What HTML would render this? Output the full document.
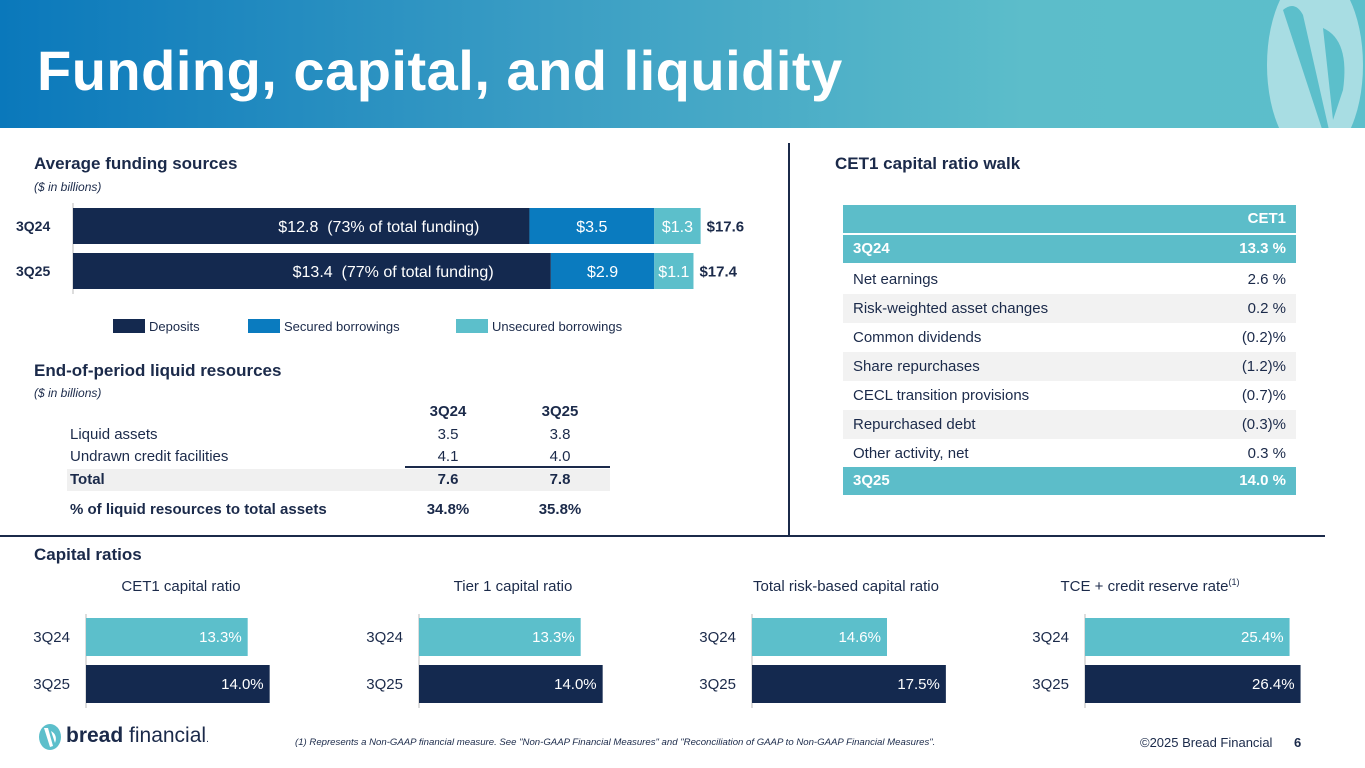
<!DOCTYPE html>
<html><head><meta charset="utf-8">
<style>
*{margin:0;padding:0;box-sizing:border-box}
body{width:1365px;height:768px;overflow:hidden;background:#fff;font-family:"Liberation Sans",Arial,sans-serif;color:#1b2a4a;position:relative}
.abs{position:absolute}
.h2{font-weight:bold;font-size:17px;color:#1b2a4a}
.sub{font-style:italic;font-size:12px;color:#1b2a4a}
.t{font-size:15px;white-space:nowrap}
</style></head><body>
<div class="abs" style="left:0;top:0;width:1365px;height:128px;background:linear-gradient(90deg,#0a78bb 0%,#3a9dc4 40%,#5cbdca 75%,#5cbfcb 100%);overflow:hidden">
  <svg class="abs" style="left:1255px;top:-20px" width="120" height="170">
    <ellipse cx="60" cy="85" rx="48" ry="95" fill="#a8dde3"/>
    <path d="M28 30 Q40 20 48 35 L74 150 L68 152 Z" fill="#5cbfcb"/>
    <path d="M68 48 Q95 60 88 110 L78 140 Z" fill="#5cbfcb"/>
  </svg>
  <div class="abs" style="left:37px;top:38px;font-size:56px;font-weight:bold;color:#fff;letter-spacing:0.5px">Funding, capital, and liquidity</div>
</div>

<div class="abs" style="left:788px;top:143px;width:2px;height:393px;background:#1b2a4a"></div>
<div class="abs" style="left:0;top:535px;width:1325px;height:2px;background:#1b2a4a"></div>

<div class="abs h2" style="left:34px;top:154px">Average funding sources</div>
<div class="abs sub" style="left:34px;top:180px">($ in billions)</div>
<svg class="abs" id="fund" style="left:0;top:195px" width="780" height="145"></svg>

<div class="abs h2" style="left:34px;top:361px">End-of-period liquid resources</div>
<div class="abs sub" style="left:34px;top:386px">($ in billions)</div>
<div>
  <div class="abs t" style="left:420px;top:403px;width:56px;text-align:center;font-weight:bold">3Q24</div>
  <div class="abs t" style="left:532px;top:403px;width:56px;text-align:center;font-weight:bold">3Q25</div>
  <div class="abs t" style="left:70px;top:426px">Liquid assets</div>
  <div class="abs t" style="left:420px;top:426px;width:56px;text-align:center">3.5</div>
  <div class="abs t" style="left:532px;top:426px;width:56px;text-align:center">3.8</div>
  <div class="abs t" style="left:70px;top:448px">Undrawn credit facilities</div>
  <div class="abs t" style="left:420px;top:448px;width:56px;text-align:center">4.1</div>
  <div class="abs t" style="left:532px;top:448px;width:56px;text-align:center">4.0</div>
  <div class="abs" style="left:405px;top:466px;width:205px;height:2px;background:#1b2a4a"></div>
  <div class="abs" style="left:67px;top:469px;width:543px;height:22px;background:#f0f0f0"></div>
  <div class="abs t" style="left:70px;top:471px;font-weight:bold">Total</div>
  <div class="abs t" style="left:420px;top:471px;width:56px;text-align:center;font-weight:bold">7.6</div>
  <div class="abs t" style="left:532px;top:471px;width:56px;text-align:center;font-weight:bold">7.8</div>
  <div class="abs t" style="left:70px;top:501px;font-weight:bold">% of liquid resources to total assets</div>
  <div class="abs t" style="left:415px;top:501px;width:66px;text-align:center;font-weight:bold">34.8%</div>
  <div class="abs t" style="left:527px;top:501px;width:66px;text-align:center;font-weight:bold">35.8%</div>
</div>

<div class="abs h2" style="left:835px;top:154px">CET1 capital ratio walk</div>
<div id="walk"></div>

<div class="abs h2" style="left:34px;top:545px">Capital ratios</div>
<svg class="abs" id="caps" style="left:0;top:570px" width="1365" height="145"></svg>

<svg class="abs" style="left:36px;top:723px" width="30" height="28">
  <ellipse cx="14" cy="14" rx="11" ry="13" fill="#5cbfcb"/><path d="M8 5 L14 24 L17 23 L12 5Z M15 8 Q22 12 19 20Z" fill="#fff"/>
</svg>
<div class="abs" style="left:66px;top:724px;font-size:21px;color:#1b2a4a"><b>bread</b> financial<span style="font-size:10px">.</span></div>
<div class="abs" style="left:295px;top:737px;font-size:9.6px;font-style:italic;color:#1b2a4a;white-space:nowrap">(1) Represents a Non-GAAP financial measure. See "Non-GAAP Financial Measures" and "Reconciliation of GAAP to Non-GAAP Financial Measures".</div>
<div class="abs" style="left:1140px;top:735px;font-size:13px;color:#1b2a4a">©2025 Bread Financial</div>
<div class="abs" style="left:1294px;top:735px;font-size:13px;font-weight:bold;color:#1b2a4a">6</div>

<script>
// Funding chart data
const fundCats = ['3Q24','3Q25'];
const deposits = [12.8, 13.4];
const secured = [3.5, 2.9];
const unsecured = [1.3, 1.1];
const depositPct = ['73%','77%'];
const totals = ['$17.6','$17.4'];
// CET1 walk data
const walkLabels = ['Net earnings','Risk-weighted asset changes','Common dividends','Share repurchases','CECL transition provisions','Repurchased debt','Other activity, net'];
const walkValues = ['2.6 %','0.2 %','(0.2)%','(1.2)%','(0.7)%','(0.3)%','0.3 %'];
const walkStart = '13.3 %';
const walkEnd = '14.0 %';
// Capital ratios data
const capTitles = ['CET1 capital ratio','Tier 1 capital ratio','Total risk-based capital ratio','TCE + credit reserve rate'];
const capQ = ['3Q24','3Q25'];
const cap3Q24 = [13.3, 13.3, 14.6, 25.4];
const cap3Q25 = [14.0, 14.0, 17.5, 26.4];
const capMin = [8.15, 8.15, 7.95, 6.8];
const capMax = [15.03, 15.03, 18.59, 26.44];

const NS='http://www.w3.org/2000/svg';
function mk(svg,tag,attrs,text){const e=document.createElementNS(NS,tag);for(const k in attrs)e.setAttribute(k,attrs[k]);if(text!==undefined)e.textContent=text;svg.appendChild(e);return e;}

// funding
(function(){
  const svg=document.getElementById('fund');
  const x0=73, pxPer=35.66;
  const xs=v=>x0+v*pxPer;
  const ys=i=>13+i*45;
  const bh=36;
  const ax=mk(svg,'line',{x1:x0,y1:8,x2:x0,y2:99,stroke:'#bbb','stroke-width':1});
  
  
  fundCats.forEach((c,i)=>{
    const y=ys(i);
    const l=mk(svg,'text',{x:16,y:y+bh/2+5,'font-size':14,'font-weight':'bold',fill:'#1b2a4a'},c);
    
    
    const segs=[[0,deposits[i],'#14294f'],[deposits[i],secured[i],'#0a7bbf'],[deposits[i]+secured[i],unsecured[i],'#5cbfcb']];
    segs.forEach((s,j)=>{
      const r=mk(svg,'rect',{x:xs(s[0]),y:y,width:s[1]*pxPer,height:bh,fill:s[2]});
      
      
      const txt=j===0?'$'+s[1].toFixed(1)+'\u00a0\u00a0('+depositPct[i]+' of total funding)':'$'+s[1].toFixed(1);
      const cx=j===0?xs(s[0])+s[1]*pxPer*0.67:xs(s[0])+s[1]*pxPer/2;
      const t=mk(svg,'text',{x:cx,y:y+bh/2+6,'font-size':16,fill:'#fff','text-anchor':'middle'},txt);
      
      
    });
    const tot=deposits[i]+secured[i]+unsecured[i];
    const tl=mk(svg,'text',{x:xs(tot)+6,y:y+bh/2+5.5,'font-size':15,'font-weight':'bold',fill:'#1b2a4a'},totals[i]);
    
    
  });
  const leg=[['Deposits','#14294f',113],['Secured borrowings','#0a7bbf',248],['Unsecured borrowings','#5cbfcb',456]];
  leg.forEach(l=>{
    const g=mk(svg,'g',{});
    
    
    mk(g,'rect',{x:l[2],y:124,width:32,height:14,fill:l[1]});
    mk(g,'text',{x:l[2]+36,y:136,'font-size':13,fill:'#1b2a4a'},l[0]);
  });
})();

// CET1 walk
(function(){
  const host=document.getElementById('walk');
  const L=843,W=453,pad=10;
  function row(top,h,bg,label,val,bold,color,name){
    const d=document.createElement('div');
    d.className='abs';
    
    
    d.style.cssText=`left:${L}px;top:${top}px;width:${W}px;height:${h}px;background:${bg};font-size:15px;color:${color};font-weight:${bold?'bold':'normal'}`;
    d.innerHTML=`<span style="position:absolute;left:${pad}px;top:${h/2-9}px">${label}</span><span style="position:absolute;right:${pad}px;top:${h/2-9}px">${val}</span>`;
    host.appendChild(d);
  }
  row(205,28,'#5cbdc9','','CET1',true,'#fff','walk-header');
  row(235,28,'#5cbdc9','3Q24',walkStart,true,'#fff','walk-row-start');
  walkLabels.forEach((lab,i)=>row(265+i*29,29,i%2?'#f2f2f2':'#fff',lab,walkValues[i],false,'#1b2a4a','walk-row'));
  row(467,28,'#5cbdc9','3Q25',walkEnd,true,'#fff','walk-row-end');
})();

// capital ratios
(function(){
  const svg=document.getElementById('caps');
  const axX=[86,419,752,1085];
  const centers=[181,513,846,1150];
  const W=216;
  capTitles.forEach((t,k)=>{
    const xs=v=>axX[k]+(v-capMin[k])/(capMax[k]-capMin[k])*W;
    const tt=mk(svg,'text',{x:centers[k],y:21,'font-size':15,'text-anchor':'middle',fill:'#1b2a4a'},t);
    
    
    if(k===3){mk(tt,'tspan',{'font-size':9,dy:-6},'(1)');}
    const ax=mk(svg,'line',{x1:axX[k],y1:44,x2:axX[k],y2:138,stroke:'#bbb','stroke-width':1});
    
    
    const vals=[cap3Q24[k],cap3Q25[k]];
    vals.forEach((v,i)=>{
      const y=48+i*47,h=38;
      const r=mk(svg,'rect',{x:axX[k],y:y,width:xs(v)-axX[k],height:h,fill:i?'#14294f':'#5cbfcb'});
      
      
      const vl=mk(svg,'text',{x:xs(v)-6,y:y+h/2+5,'font-size':15,'text-anchor':'end',fill:'#fff'},v.toFixed(1)+'%');
      
      
      const cl=mk(svg,'text',{x:axX[k]-16,y:y+h/2+5,'font-size':15,'text-anchor':'end',fill:'#1b2a4a'},capQ[i]);
      
      
    });
  });
})();
</script>
</body></html>
